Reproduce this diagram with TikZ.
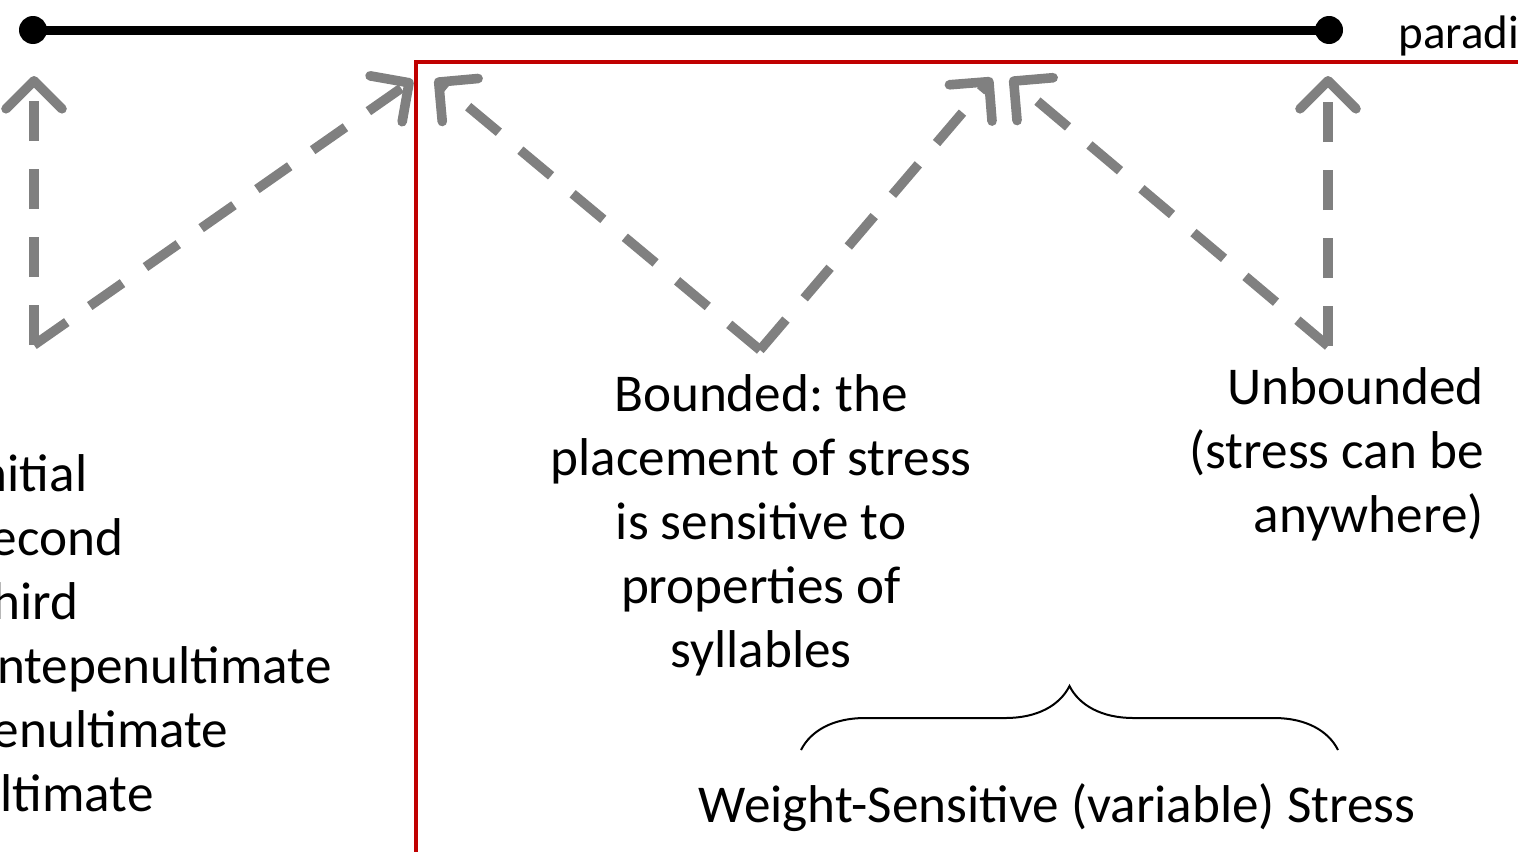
\documentclass[tikz,border=0pt]{standalone}
\usepackage{fontspec}
\setmainfont{Carlito}
\usepackage{tikz}
\usetikzlibrary{
  arrows.meta,
  decorations.pathreplacing,
  positioning
}
\frenchspacing
\definecolor{stRed}{HTML}{C00000}
\definecolor{stGray}{HTML}{808080}
\tikzset{
  axisbar/.style={line width=4.5pt, black},
  axisdot/.style={circle, fill=black, inner sep=0pt, minimum size=14pt},
  redline/.style={line width=2.2pt, stRed},
  zig/.style={
    line width=4.8pt, stGray, dash pattern=on 20pt off 14pt,
    -{Straight Barb[length=14pt, width=28pt, round]}
  },
  lbl/.style={font=\fontsize{26.6}{32}\selectfont, inner sep=0pt},
  smalllbl/.style={font=\fontsize{23.5}{28}\selectfont, inner sep=0pt},
  bracket/.style={decorate, decoration={brace, amplitude=32pt}, line width=1pt}
}

\begin{document}
\begin{tikzpicture}[x=0.5pt, y=-0.5pt]
  \useasboundingbox (0,0) rectangle (1518,851);
  \clip (0,0) rectangle (1518,851);

  % stress scale
  \node[axisdot] (left) at (33,30) {};
  \node[axisdot] (right) at (1329,30) {};
  \draw[axisbar] (left.center) -- (right.center);
  \node[smalllbl, anchor=base west] (para) at (1398,48) {paradigm};

  % weight-sensitive region
  \coordinate (r1) at (416,870);
  \coordinate (r2) at (416,62);
  \coordinate (r3) at (1540,62);
  \draw[redline] (r1) -- (r2) -- (r3);

  % zigzag arrows
  \coordinate (c1) at (34,345);
  \coordinate (c2) at (760,350);
  \coordinate (c3) at (1328,346);
  \coordinate (t1) at (34,76);
  \coordinate (t2) at (413,80);
  \coordinate (t3) at (435,79);
  \coordinate (t4) at (992,78);
  \coordinate (t5) at (1010,78);
  \coordinate (t6) at (1328,76);
  \draw[zig] (c1) -- (t1);
  \draw[zig] (c1) -- (t2);
  \draw[zig] (c2) -- (t3);
  \draw[zig] (c2) -- (t4);
  \draw[zig] (c3) -- (t5);
  \draw[zig] (c3) -- (t6);

  % labels
  \node[lbl, align=left, anchor=north west] (fixed) at (-34,454)
    {Initial\\Second\\Third\\Antepenultimate\\Penultimate\\Ultimate};
  \node[lbl, align=center, anchor=north] (bounded) at (761,374)
    {Bounded: the\\placement of stress\\is sensitive to\\properties of\\syllables};
  \node[lbl, align=right, anchor=north east] (unbounded) at (1484,367)
    {Unbounded\\(stress can be\\anywhere)};

  \coordinate (b1) at (801,750);
  \coordinate (b2) at (1338,750);
  \draw[bracket] (b1) -- (b2);
  \node[lbl, anchor=base] (weight) at (1057,822) {Weight-Sensitive (variable) Stress};
\end{tikzpicture}
\end{document}
